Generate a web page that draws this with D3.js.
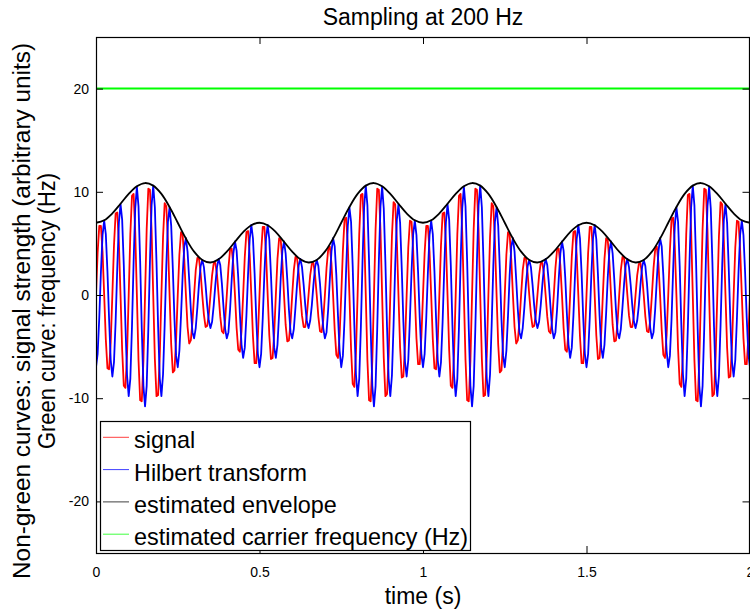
<!DOCTYPE html>
<html><head><meta charset="utf-8">
<script src="https://cdn.jsdelivr.net/npm/d3@7"></script>
<style>body{margin:0;background:#fff}svg{display:block;font-family:"Liberation Sans",Arial,Helvetica,sans-serif}</style>
</head><body><svg id="c" width="750" height="612"></svg>
<script>
const sampleRate = 200;
const signal = [
0,4.1,6.7,6.7,4.2,0,-4.3,-7.1,-7.2,-4.6,
0,4.8,7.9,8.0,5.1,0,-5.3,-8.8,-9.0,-5.7,
0,5.9,9.6,9.8,6.1,0,-6.3,-10.2,-10.3,-6.4,
0,6.4,10.3,10.2,6.3,0,-6.2,-9.8,-9.7,-5.9,
0,5.6,8.9,8.6,5.2,0,-4.8,-7.5,-7.3,-4.3,
0,3.9,6.1,5.8,3.4,0,-3.1,-4.7,-4.4,-2.6,
0,2.4,3.6,3.5,2.1,0,-1.9,-3.1,-3.0,-1.9,
0,1.9,3.1,3.1,2.0,0,-2.1,-3.5,-3.7,-2.4,
0,2.6,4.4,4.5,2.9,0,-3.2,-5.3,-5.5,-3.5,
0,3.7,6.1,6.2,3.9,0,-4.0,-6.6,-6.6,-4.1,
0,4.1,6.6,6.6,4.0,0,-3.9,-6.2,-6.1,-3.7,
0,3.5,5.5,5.3,3.2,0,-2.9,-4.5,-4.4,-2.6,
0,2.4,3.7,3.5,2.1,0,-2.0,-3.1,-3.1,-1.9,
0,1.9,3.0,3.1,1.9,0,-2.1,-3.5,-3.6,-2.4,
0,2.6,4.4,4.7,3.1,0,-3.4,-5.8,-6.1,-3.9,
0,4.3,7.3,7.5,4.8,0,-5.2,-8.6,-8.9,-5.6,
0,5.9,9.7,9.8,6.2,0,-6.3,-10.2,-10.3,-6.4,
0,6.4,10.3,10.2,6.3,0,-6.1,-9.8,-9.6,-5.9,
0,5.7,9.0,8.8,5.3,0,-5.1,-8.0,-7.9,-4.8,
0,4.6,7.2,7.1,4.3,0,-4.2,-6.7,-6.7,-4.1,
0,4.1,6.7,6.7,4.2,0,-4.3,-7.1,-7.2,-4.6,
0,4.8,7.9,8.0,5.1,0,-5.3,-8.8,-9.0,-5.7,
0,5.9,9.6,9.8,6.1,0,-6.3,-10.2,-10.3,-6.4,
0,6.4,10.3,10.2,6.3,0,-6.2,-9.8,-9.7,-5.9,
0,5.6,8.9,8.6,5.2,0,-4.8,-7.5,-7.3,-4.3,
0,3.9,6.1,5.8,3.4,0,-3.1,-4.7,-4.4,-2.6,
0,2.4,3.6,3.5,2.1,0,-1.9,-3.1,-3.0,-1.9,
0,1.9,3.1,3.1,2.0,0,-2.1,-3.5,-3.7,-2.4,
0,2.6,4.4,4.5,2.9,0,-3.2,-5.3,-5.5,-3.5,
0,3.7,6.1,6.2,3.9,0,-4.0,-6.6,-6.6,-4.1,
0,4.1,6.6,6.6,4.0,0,-3.9,-6.2,-6.1,-3.7,
0,3.5,5.5,5.3,3.2,0,-2.9,-4.5,-4.4,-2.6,
0,2.4,3.7,3.5,2.1,0,-2.0,-3.1,-3.1,-1.9,
0,1.9,3.0,3.1,1.9,0,-2.1,-3.5,-3.6,-2.4,
0,2.6,4.4,4.7,3.1,0,-3.4,-5.8,-6.1,-3.9,
0,4.3,7.3,7.5,4.8,0,-5.2,-8.6,-8.9,-5.6,
0,5.9,9.7,9.8,6.2,0,-6.3,-10.2,-10.3,-6.4,
0,6.4,10.3,10.2,6.3,0,-6.1,-9.8,-9.6,-5.9,
0,5.7,9.0,8.8,5.3,0,-5.1,-8.0,-7.9,-4.8,
0,4.6,7.2,7.1,4.3,0,-4.2,-6.7,-6.7,-4.1,
0];
const hilbert = [
-7.0,-5.7,-2.2,2.2,5.8,7.2,5.9,2.3,-2.3,-6.3,
-7.9,-6.5,-2.6,2.6,7.0,8.8,7.3,2.9,-2.9,-7.8,
-9.8,-8.1,-3.1,3.2,8.4,10.5,8.6,3.3,-3.3,-8.8,
-10.8,-8.8,-3.3,3.3,8.7,10.6,8.5,3.2,-3.1,-8.1,
-9.8,-7.7,-2.9,2.8,7.1,8.5,6.7,2.5,-2.4,-5.9,
-7.0,-5.4,-2.0,1.9,4.7,5.5,4.2,1.5,-1.4,-3.6,
-4.2,-3.2,-1.2,1.1,2.8,3.4,2.7,1.0,-1.0,-2.5,
-3.2,-2.6,-1.0,1.0,2.7,3.5,2.9,1.1,-1.2,-3.3,
-4.2,-3.6,-1.4,1.5,4.0,5.2,4.3,1.7,-1.8,-4.8,
-6.1,-5.1,-2.0,2.0,5.4,6.8,5.5,2.1,-2.2,-5.7,
-7.0,-5.7,-2.2,2.1,5.5,6.8,5.4,2.0,-2.0,-5.1,
-6.1,-4.8,-1.8,1.7,4.3,5.2,4.0,1.5,-1.4,-3.6,
-4.2,-3.3,-1.2,1.1,2.9,3.5,2.7,1.0,-1.0,-2.6,
-3.2,-2.5,-1.0,1.0,2.7,3.4,2.8,1.1,-1.2,-3.2,
-4.2,-3.6,-1.4,1.5,4.2,5.5,4.7,1.9,-2.0,-5.4,
-7.0,-5.9,-2.4,2.5,6.7,8.5,7.1,2.8,-2.9,-7.7,
-9.8,-8.1,-3.1,3.2,8.5,10.6,8.7,3.3,-3.3,-8.8,
-10.8,-8.8,-3.3,3.3,8.6,10.5,8.4,3.2,-3.1,-8.1,
-9.8,-7.8,-2.9,2.9,7.3,8.8,7.0,2.6,-2.6,-6.5,
-7.9,-6.3,-2.3,2.3,5.9,7.2,5.8,2.2,-2.2,-5.7,
-7.0,-5.7,-2.2,2.2,5.8,7.2,5.9,2.3,-2.3,-6.3,
-7.9,-6.5,-2.6,2.6,7.0,8.8,7.3,2.9,-2.9,-7.8,
-9.8,-8.1,-3.1,3.2,8.4,10.5,8.6,3.3,-3.3,-8.8,
-10.8,-8.8,-3.3,3.3,8.7,10.6,8.5,3.2,-3.1,-8.1,
-9.8,-7.7,-2.9,2.8,7.1,8.5,6.7,2.5,-2.4,-5.9,
-7.0,-5.4,-2.0,1.9,4.7,5.5,4.2,1.5,-1.4,-3.6,
-4.2,-3.2,-1.2,1.1,2.8,3.4,2.7,1.0,-1.0,-2.5,
-3.2,-2.6,-1.0,1.0,2.7,3.5,2.9,1.1,-1.2,-3.3,
-4.2,-3.6,-1.4,1.5,4.0,5.2,4.3,1.7,-1.8,-4.8,
-6.1,-5.1,-2.0,2.0,5.4,6.8,5.5,2.1,-2.2,-5.7,
-7.0,-5.7,-2.2,2.1,5.5,6.8,5.4,2.0,-2.0,-5.1,
-6.1,-4.8,-1.8,1.7,4.3,5.2,4.0,1.5,-1.4,-3.6,
-4.2,-3.3,-1.2,1.1,2.9,3.5,2.7,1.0,-1.0,-2.6,
-3.2,-2.5,-1.0,1.0,2.7,3.4,2.8,1.1,-1.2,-3.2,
-4.2,-3.6,-1.4,1.5,4.2,5.5,4.7,1.9,-2.0,-5.4,
-7.0,-5.9,-2.4,2.5,6.7,8.5,7.1,2.8,-2.9,-7.7,
-9.8,-8.1,-3.1,3.2,8.5,10.6,8.7,3.3,-3.3,-8.8,
-10.8,-8.8,-3.3,3.3,8.6,10.5,8.4,3.2,-3.1,-8.1,
-9.8,-7.8,-2.9,2.9,7.3,8.8,7.0,2.6,-2.6,-6.5,
-7.9,-6.3,-2.3,2.3,5.9,7.2,5.8,2.2,-2.2,-5.7,
-7.0];
const envelopeStep = 0.025;
const envelope = [
7.00,7.24,7.91,8.84,9.80,10.54,10.85,10.60,9.80,8.53,
7.00,5.47,4.20,3.40,3.15,3.46,4.20,5.16,6.09,6.76,
7.00,6.76,6.09,5.16,4.20,3.46,3.15,3.40,4.20,5.47,
7.00,8.53,9.80,10.60,10.85,10.54,9.80,8.84,7.91,7.24,
7.00,7.24,7.91,8.84,9.80,10.54,10.85,10.60,9.80,8.53,
7.00,5.47,4.20,3.40,3.15,3.46,4.20,5.16,6.09,6.76,
7.00,6.76,6.09,5.16,4.20,3.46,3.15,3.40,4.20,5.47,
7.00,8.53,9.80,10.60,10.85,10.54,9.80,8.84,7.91,7.24,
7.00];
const carrierTimes = [0, 2];
const carrierFreq = [20, 20];
const xTicks = [0, 0.5, 1, 1.5, 2];
const yTicks = [-20, -10, 0, 10, 20];
const legendLabels = ["signal", "Hilbert transform", "estimated envelope", "estimated carrier frequency (Hz)"];
const seriesColors = ["#ff0000", "#0000ff", "#000000", "#00ff00"];

const svg = d3.select("#c");
const L = 96, R = 750, T = 37, B = 553;
const x = d3.scaleLinear().domain([0, 2]).range([L, R]);
const y = d3.scaleLinear().domain([-25, 25]).range([B, T]);

svg.append("defs").append("clipPath").attr("id", "clip")
  .append("rect").attr("x", L).attr("y", T).attr("width", R - L).attr("height", B - T);
const plot = svg.append("g").attr("clip-path", "url(#clip)");

const lineT = d3.line().x(d => x(d[0])).y(d => y(d[1]));
const sigPts = signal.map((v, i) => [i / sampleRate, v]);
const hilPts = hilbert.map((v, i) => [i / sampleRate, v]);
const envPts = envelope.map((v, i) => [i * envelopeStep, v]);
const frqPts = carrierFreq.map((v, i) => [carrierTimes[i], v]);

plot.append("path").datum(sigPts).attr("d", lineT).attr("fill", "none")
  .attr("stroke", seriesColors[0]).attr("stroke-width", 1.8).attr("stroke-linejoin", "round");
plot.append("path").datum(hilPts).attr("d", lineT).attr("fill", "none")
  .attr("stroke", seriesColors[1]).attr("stroke-width", 1.8).attr("stroke-linejoin", "round");
plot.append("path").datum(envPts).attr("d", d3.line().x(d => x(d[0])).y(d => y(d[1])).curve(d3.curveCatmullRom))
  .attr("fill", "none").attr("stroke", seriesColors[2]).attr("stroke-width", 1.8);
plot.append("path").datum(frqPts).attr("d", lineT).attr("fill", "none")
  .attr("stroke", seriesColors[3]).attr("stroke-width", 2);

const fmt = d => String(d);
function styleAxis(g) {
  g.select(".domain").remove();
  g.selectAll(".tick line").attr("stroke", "#000");
  g.selectAll(".tick text").attr("fill", "#000").style("font-size", "14px")
   .style("font-family", "'Liberation Sans',Arial,sans-serif");
}
svg.append("g").attr("transform", `translate(${L},0)`)
  .call(d3.axisLeft(y).tickValues(yTicks).tickFormat(fmt).tickSize(-7).tickPadding(7)).call(styleAxis);
svg.append("g").attr("transform", `translate(${R - 0.5},0)`)
  .call(d3.axisRight(y).tickValues(yTicks).tickFormat("").tickSize(-7)).call(styleAxis);
svg.append("g").attr("transform", `translate(0,${B})`)
  .call(d3.axisBottom(x).tickValues(xTicks).tickFormat(fmt).tickSize(-7).tickPadding(14)).call(styleAxis);
svg.append("g").attr("transform", `translate(0,${T})`)
  .call(d3.axisTop(x).tickValues(xTicks).tickFormat("").tickSize(-7)).call(styleAxis);

svg.append("rect").attr("x", L + 0.5).attr("y", T + 0.5).attr("width", R - L - 1).attr("height", B - T)
  .attr("fill", "none").attr("stroke", "#000").attr("stroke-width", 1.2);

// legend
const lg = svg.append("g");
lg.append("rect").attr("x", 100.5).attr("y", 421.5).attr("width", 370).attr("height", 129)
  .attr("fill", "#fff").attr("stroke", "#000").attr("stroke-width", 1.2);
legendLabels.forEach((lab, i) => {
  const by = 448.3 + i * 32.3;
  lg.append("line").attr("x1", 103).attr("x2", 129).attr("y1", by - 11).attr("y2", by - 11)
    .attr("stroke", seriesColors[i]).attr("stroke-width", 1).attr("opacity", 0.75);
  lg.append("text").attr("x", 134).attr("y", by).style("font-size", "23.4px").attr("fill", "#000").text(lab);
});

svg.append("text").attr("x", (L + R) / 2).attr("y", 25).attr("text-anchor", "middle")
  .style("font-size", "23px").text("Sampling at 200 Hz");
svg.append("text").attr("x", (L + R) / 2).attr("y", 604).attr("text-anchor", "middle")
  .style("font-size", "23px").text("time (s)");
svg.append("text").attr("transform", "translate(30,311) rotate(-90)").attr("text-anchor", "middle")
  .style("font-size", "23.5px").attr("textLength", 536).attr("lengthAdjust", "spacingAndGlyphs")
  .text("Non-green curves: signal strength (arbitrary units)");
svg.append("text").attr("transform", "translate(55,311) rotate(-90)").attr("text-anchor", "middle")
  .style("font-size", "23px").attr("textLength", 276).attr("lengthAdjust", "spacingAndGlyphs")
  .text("Green curve: frequency (Hz)");
</script></body></html>
